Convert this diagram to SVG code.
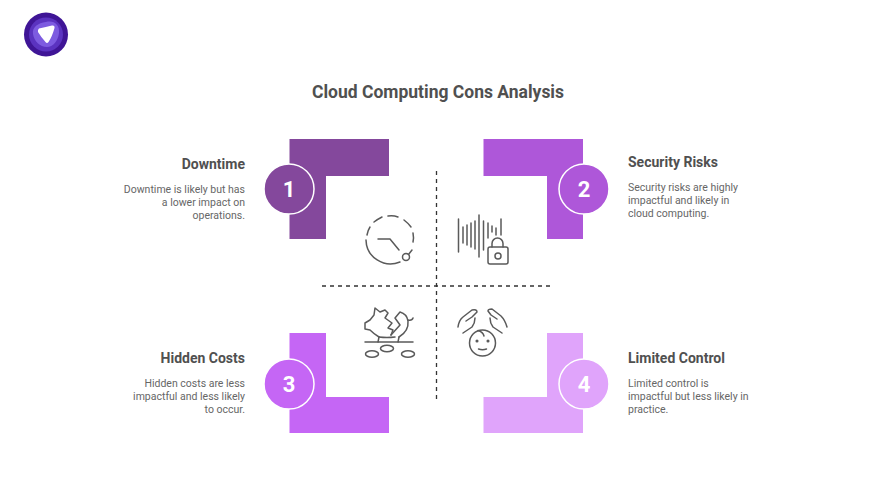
<svg xmlns="http://www.w3.org/2000/svg" width="876" height="493" viewBox="0 0 876 493">
<style>
text{font-family:Roboto,"Liberation Sans",sans-serif}
.t{font-size:14px;font-weight:700;fill:#505050}
.d{font-size:10.500px;fill:#666}
.e{text-anchor:end}
.n{font-size:22px;font-weight:700;fill:#fff;text-anchor:middle}
.c{stroke:#fff;stroke-width:1.500}
.i{fill:none;stroke:#5a5a5a;stroke-width:1.500;stroke-linecap:round;stroke-linejoin:round}
.a{fill:none;stroke:#333;stroke-width:1.300;stroke-dasharray:4 4}
</style>
<rect width="876" height="493" fill="#fff"/>
<g id="logo">
<circle cx="46" cy="34.500" r="22" fill="#3f1596"/>
<circle cx="46" cy="34.500" r="17" fill="#5b33c0"/>
<path d="M46 22C54 20 60 25 59 33C58 41 53 47 47 47C40 47 34 41 33 34C32 27 38 23 46 22Z" fill="#7d5be0"/>
<path d="M39 28.500Q46 27 52 25.500Q55 25 54.500 28Q52 37 48.500 42Q47 44 45.500 42Q41 37 38 32Q37.500 29.500 39 28.500Z" fill="#fff"/>
</g>
<text id="title" x="438" y="98" text-anchor="middle" font-weight="700" fill="#505050" style="font-size:17.500px">Cloud Computing Cons Analysis</text>
<g id="connectors">
<path class="a" d="M436.500 171V401"/>
<path class="a" d="M322 286H551"/>
</g>
<g id="node1">
<path d="M289.500 139H389V176H326V239H289.500Z" fill="#84489c"/>
<circle class="c" cx="289" cy="189" r="25" fill="#84489c"/>
<text class="n" x="289" y="197">1</text>
<text class="t e" x="245" y="169">Downtime</text>
<text class="d e" x="245" y="193">Downtime is likely but has</text>
<text class="d e" x="245" y="206">a lower impact on</text>
<text class="d e" x="245" y="219">operations.</text>
<g class="i">
<path d="M366 240A24.500 24.500 0 0 0 400 262"/>
<path d="M367 235Q368 230 370 227M374 222Q378 219 382 217M388 216Q393 215 398 217M404 220Q408 223 411 227M413 233Q414 238 413 242"/>
<path d="M378 239H390L399 250"/>
<circle cx="406" cy="257" r="3.500"/>
<path d="M408.500 254.500L412 250"/>
</g>
</g>
<g id="node2">
<path d="M483.500 139H583V239H547V176H483.500Z" fill="#ae57d9"/>
<circle class="c" cx="584" cy="189" r="25" fill="#ae57d9"/>
<text class="n" x="584" y="197">2</text>
<text class="t" x="628" y="167">Security Risks</text>
<text class="d" x="628" y="191">Security risks are highly</text>
<text class="d" x="628" y="204">impactful and likely in</text>
<text class="d" x="628" y="217">cloud computing.</text>
<g class="i">
<path d="M458.500 219V252M463 227V243M467 225V245M471 223V247M475 221V249M479 215V257M483.500 221V250M488 223V238M492 226V232M496 228V235M501 219V235"/>
<rect x="488" y="247" width="20" height="17" rx="2"/>
<circle cx="498" cy="256" r="3"/>
<path d="M492 247V243.500A5.500 5.500 0 0 1 503 243.500V247"/>
</g>
</g>
<g id="node3">
<path d="M289.500 333H326V397H389V433H289.500Z" fill="#c566f5"/>
<circle class="c" cx="289" cy="384" r="25" fill="#c566f5"/>
<text class="n" x="289" y="392">3</text>
<text class="t e" x="245" y="363">Hidden Costs</text>
<text class="d e" x="245" y="387">Hidden costs are less</text>
<text class="d e" x="245" y="400">impactful and less likely</text>
<text class="d e" x="245" y="413">to occur.</text>
<g class="i">
<path d="M365 342H413"/>
<path d="M378 342L379 337M398 342L399 337"/>
<path d="M379 337Q374 334 370 330L365 329V323L370 320L374 315L375 308L380 312L385 310L388 313L385 318L392 323L388 328L393 330L391 335"/>
<path d="M379 337Q387 338 395 337"/>
<path d="M391 335L400 325L395 318L400 312Q407 314 408 321Q409 331 399 337"/>
<path d="M408 320Q412 321 413 318"/>
<ellipse cx="372" cy="354" rx="6.500" ry="3.200"/>
<ellipse cx="387" cy="348.500" rx="6.500" ry="3.200"/>
<ellipse cx="408" cy="354" rx="6.500" ry="3.200"/>
</g>
</g>
<g id="node4">
<path d="M547 333H583V433H483.500V397H547Z" fill="#e0a4fb"/>
<circle class="c" cx="584" cy="384" r="25" fill="#e0a4fb"/>
<text class="n" x="584" y="392">4</text>
<text class="t" x="628" y="363">Limited Control</text>
<text class="d" x="628" y="387">Limited control is</text>
<text class="d" x="628" y="400">impactful but less likely in</text>
<text class="d" x="628" y="413">practice.</text>
<g class="i">
<circle cx="482.500" cy="343" r="13"/>
<path d="M478 330.500Q483 332 484 336"/>
<path d="M478.500 349Q482.500 350.500 486.500 349"/>
<circle cx="477" cy="341" r=".8"/><circle cx="488" cy="341" r=".8"/>
<path d="M458 327Q459 320 463 317L472 310Q477 309 477 312L472 317L466 321"/>
<path d="M463 333L472 327Q475 323 475 318"/>
<path d="M507 327Q505 320 501 316L492 309Q488 309 488 311L491 315L497 319"/>
<path d="M502 333L493 327Q490 323 490 318"/>
</g>
</g>
</svg>
